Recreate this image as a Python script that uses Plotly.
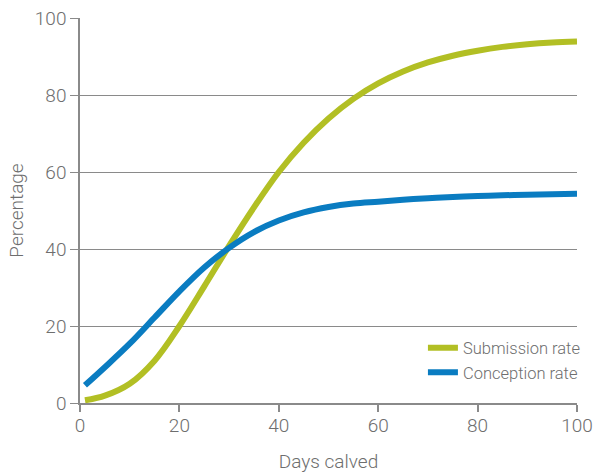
import plotly.graph_objects as go

days = [1, 5, 10, 15, 20, 25, 30, 35, 40, 45, 50, 55, 60, 65, 70, 75, 80, 85, 90, 95, 100]
submission_rate = [0.7, 1.9, 5.0, 11.0, 20.0, 30.3, 40.8, 50.8, 60.0, 67.6, 73.9, 79.0, 83.0,
                   86.1, 88.45, 90.2, 91.5, 92.5, 93.2, 93.65, 93.9]
conception_rate = [4.6, 9.3, 15.4, 22.2, 29.0, 35.2, 40.3, 44.4, 47.4, 49.5, 50.9, 51.8, 52.3,
                   52.8, 53.2, 53.5, 53.75, 53.95, 54.1, 54.22, 54.32]
tick_values = [0, 20, 40, 60, 80, 100]

GREEN = "#b2bf24"
BLUE = "#0a7cc1"
GREY = "#6e6e6e"
AXIS = "#8a8a8a"
FONT = "Roboto"

fig = go.Figure()
fig.add_trace(go.Scatter(x=days, y=submission_rate, mode="lines", name="Submission rate",
                         legendgroup="s",
                         line=dict(color=GREEN, width=6, shape="spline", smoothing=1.0)))
fig.add_trace(go.Scatter(x=days, y=conception_rate, mode="lines", name="Conception rate",
                         legendgroup="c",
                         line=dict(color=BLUE, width=6, shape="spline", smoothing=1.0)))

fig.update_layout(
    width=596, height=473,
    margin=dict(l=80, r=19, t=18, b=70, autoexpand=False),
    paper_bgcolor="white", plot_bgcolor="white",
    font=dict(family=FONT, color=GREY, size=19, weight=300),
    showlegend=True,
    legend=dict(x=0.690, y=0.188, xanchor="left", yanchor="top",
                font=dict(size=16.5, color=GREY, family=FONT, weight=300),
                bgcolor="rgba(0,0,0,0)", tracegroupgap=0, traceorder="grouped"),
)
fig.update_xaxes(range=[0, 100], tickvals=tick_values, automargin=False,
                 ticklabeloverflow="allow",
                 showgrid=False, showline=True, linecolor=AXIS, linewidth=1.5,
                 ticks="outside", ticklen=7, tickcolor=AXIS, tickwidth=1.5,
                 ticklabelstandoff=-3, zeroline=False,
                 title=dict(text="Days calved", standoff=30,
                            font=dict(size=19, family=FONT, color=GREY, weight=300)))
fig.update_yaxes(range=[0, 100], tickvals=tick_values, automargin=False,
                 ticklabeloverflow="allow",
                 showgrid=True, gridcolor=AXIS, gridwidth=1.2,
                 showline=True, linecolor=AXIS, linewidth=1.5,
                 ticks="outside", ticklen=8, tickcolor=AXIS, tickwidth=1.2,
                 zeroline=False,
                 title=dict(text="Percentage", standoff=6,
                            font=dict(size=19, family=FONT, color=GREY, weight=300)))

# remove the browser's default 8px body margin so the figure fills the window exactly
fig.write_html("out.html",
               config={"displayModeBar": False},
               post_script="document.body.style.margin='0px';document.body.style.overflow='hidden';")
